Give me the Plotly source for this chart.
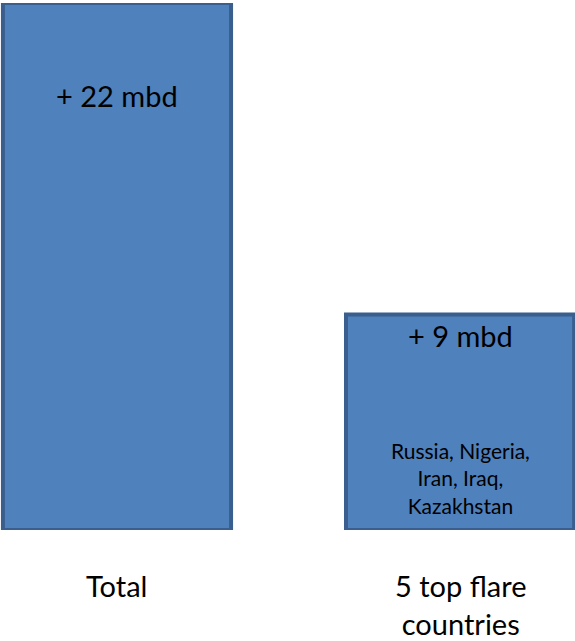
import plotly.graph_objects as go

# Production increase by group (million barrels per day)
categories = ["Total", "5 top flare<br>countries"]
increase_mbd = [22, 9]
value_labels = ["+ 22 mbd", "+ 9 mbd"]
country_note = "Russia, Nigeria,<br>Iran, Iraq,<br>Kazakhstan"

x_pos = list(range(len(categories)))
FONT = "Lato, 'Open Sans', sans-serif"

fig = go.Figure(
    go.Bar(
        x=x_pos,
        y=increase_mbd,
        width=0.665,
        marker=dict(color="#4F81BD", line=dict(color="#3A5F8E", width=4)),
        hoverinfo="skip",
    )
)

annotations = []
# value labels near the top of each bar
label_offsets = [92, 21]
for xi, val, txt, off in zip(x_pos, increase_mbd, value_labels, label_offsets):
    annotations.append(dict(
        x=xi, y=val, xref="x", yref="y", text=txt, showarrow=False,
        yanchor="middle", yshift=-off,
        font=dict(family=FONT, size=29, color="black"),
    ))

# list of countries inside the second bar
annotations.append(dict(
    x=x_pos[1], y=0, xref="x", yref="y",
    text="<span style='line-height:1.3'>" + country_note + "</span>",
    showarrow=False, yanchor="bottom", yshift=10, align="center",
    font=dict(family=FONT, size=21, color="black"),
))

# category labels under the bars
for xi, cat in zip(x_pos, categories):
    annotations.append(dict(
        x=xi, y=0, xref="x", yref="paper", text=cat, showarrow=False,
        yanchor="top", yshift=-36, align="center",
        font=dict(family=FONT, size=29, color="black"),
    ))

fig.update_layout(
    width=575, height=641,
    margin=dict(l=0, r=0, t=3, b=111),
    paper_bgcolor="white", plot_bgcolor="white",
    showlegend=False,
    xaxis=dict(range=[-0.341, 1.335], visible=False, fixedrange=True),
    yaxis=dict(range=[0, 22], visible=False, fixedrange=True),
    annotations=annotations,
)

fig.write_html("out.html")
